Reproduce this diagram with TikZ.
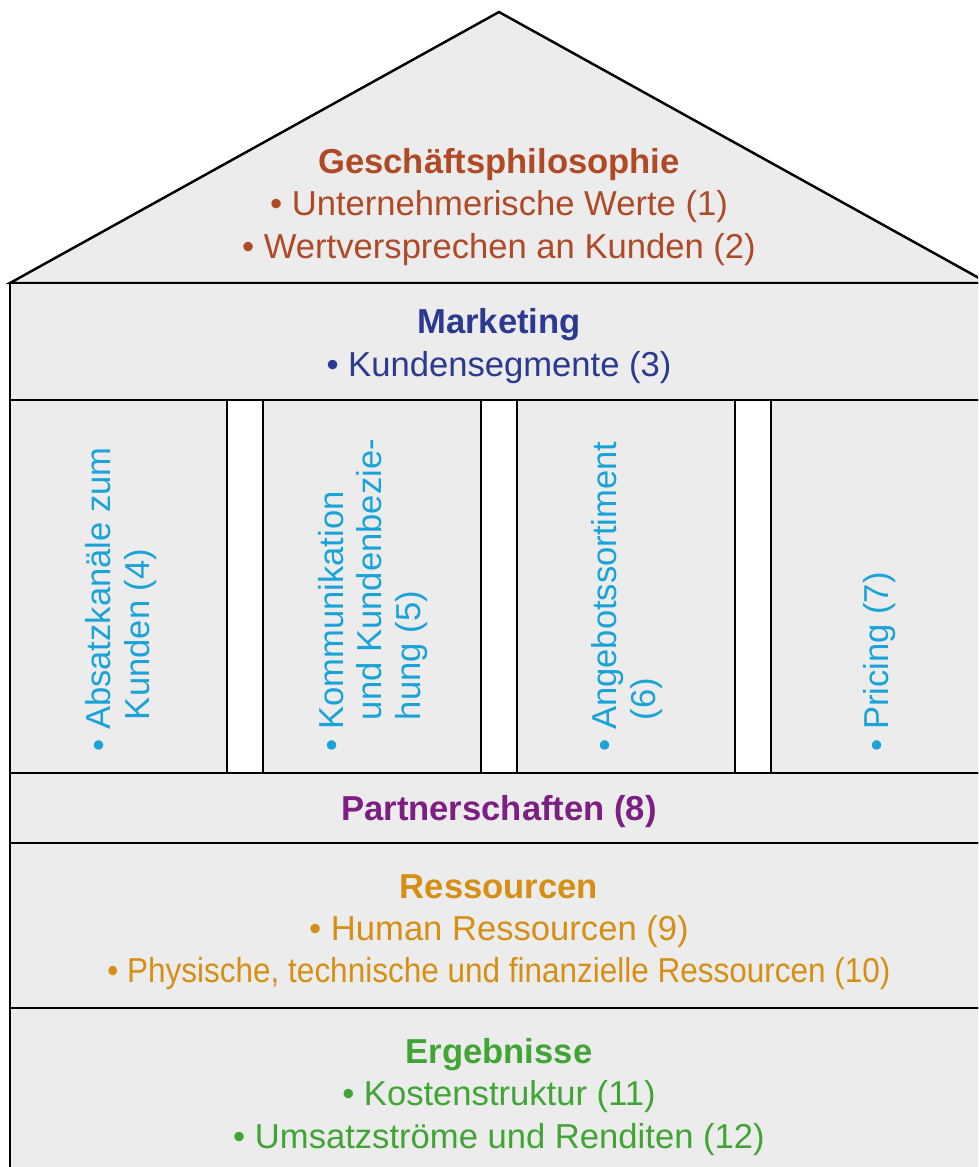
\documentclass[tikz,border=0pt]{standalone}
\usepackage{fontspec}
\setmainfont{Liberation Sans}
\definecolor{HouseClr}{HTML}{ECECEC}
\definecolor{PhiloClr}{HTML}{B04A26}
\definecolor{MarketClr}{HTML}{2B3990}
\definecolor{PillarClr}{HTML}{1AA3D9}
\definecolor{PartnerClr}{HTML}{7D1F82}
\definecolor{ResClr}{HTML}{D68F14}
\definecolor{ResultClr}{HTML}{41A535}
\newcommand{\hang}{\hspace*{18pt}}

\begin{document}
\begin{tikzpicture}[x=0.02cm,y=-0.02cm,
  wall/.style={fill=HouseClr,draw=black,line width=1.4pt},
  txt/.style={font=\fontsize{19.7}{24}\selectfont,align=center,inner sep=0pt},
  pillar/.style={txt,font=\fontsize{19.7}{22}\selectfont,rotate=90,anchor=west,align=left,text=PillarClr}]
\useasboundingbox (0,0) rectangle (978,1167);
\clip (0,0) rectangle (978,1167);

% roof, storeys and the four pillars
\draw[wall] (10,283) -- (499,12) -- (988,283) -- cycle;
\draw[wall] (10,283) rectangle (988,400);
\foreach \a/\b in {10/227,263/481,517/735,771/988}
  \draw[wall] (\a,400) rectangle (\b,773);
\draw[wall] (10,773) rectangle (988,843);
\draw[wall] (10,843) rectangle (988,1008);
\draw[wall] (10,1008) rectangle (988,1190);

\node[txt,text=PhiloClr] (philo) at (499,207)
  {\textbf{Geschäftsphilosophie}\\• Unternehmerische Werte (1)\\• Wertversprechen an Kunden (2)};
\node[txt,text=MarketClr] (market) at (499,346)
  {\textbf{Marketing}\\• Kundensegmente (3)};

\node[pillar] (channels) at (121,752) {• Absatzkanäle zum\\\hang Kunden (4)};
\node[pillar] (relation) at (373,752) {• Kommunikation\\\hang und Kundenbezie-\\\hang hung (5)};
\node[pillar] (offer) at (627,752) {• Angebotssortiment\\\hang (6)};
\node[pillar] (pricing) at (880,752) {• Pricing (7)};

\node[txt,text=PartnerClr] (partner) at (499,812) {\textbf{Partnerschaften (8)}};
\node[txt,text=ResClr] (res) at (499,932)
  {\textbf{Ressourcen}\\• Human Ressourcen (9)\\
   \scalebox{0.91}[1]{• Physische, technische und finanzielle Ressourcen (10)}};
\node[txt,text=ResultClr] (result) at (499,1097)
  {\textbf{Ergebnisse}\\• Kostenstruktur (11)\\• Umsatzströme und Renditen (12)};
\end{tikzpicture}
\end{document}
